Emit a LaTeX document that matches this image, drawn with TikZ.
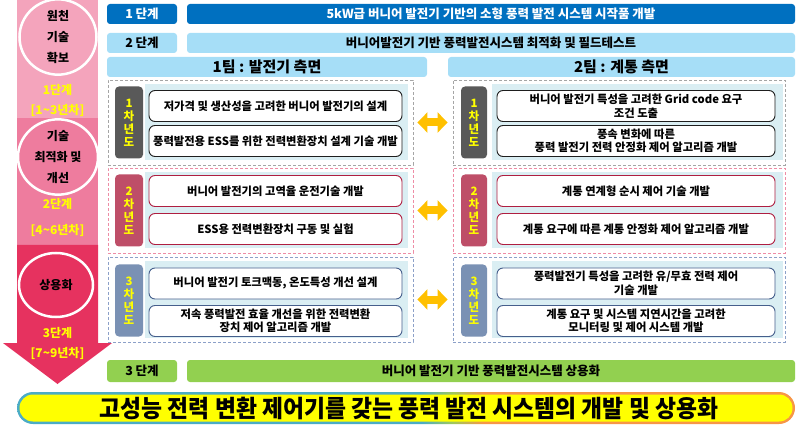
\documentclass[tikz,border=0pt]{standalone}
\usepackage{fontspec}
\setmainfont{Noto Sans CJK KR}
\usetikzlibrary{arrows.meta,shapes.geometric}

\definecolor{sOne}{RGB}{244,164,188}
\definecolor{sTwo}{RGB}{238,124,158}
\definecolor{sThree}{RGB}{230,50,95}
\definecolor{dblue}{RGB}{0,112,192}
\definecolor{lblue}{RGB}{166,222,247}
\definecolor{panelc}{RGB}{218,238,243}
\definecolor{gOne}{RGB}{89,89,89}
\definecolor{gTwo}{RGB}{190,78,104}
\definecolor{gThree}{RGB}{122,145,180}
\definecolor{dOne}{RGB}{165,165,165}
\definecolor{dTwo}{RGB}{238,140,165}
\definecolor{dThree}{RGB}{140,160,200}
\definecolor{bOne}{RGB}{30,30,30}
\definecolor{bTwo}{RGB}{175,30,65}
\definecolor{bThree}{RGB}{70,95,140}
\definecolor{arrc}{RGB}{255,192,0}
\definecolor{grn}{RGB}{146,208,80}
\definecolor{tblue}{RGB}{75,172,198}
\definecolor{tgreen}{RGB}{160,200,90}
\definecolor{torange}{RGB}{247,150,70}
\definecolor{ylw}{RGB}{255,255,0}

\pgfdeclarehorizontalshading{barshade}{100bp}{color(0bp)=(tblue); color(25bp)=(tblue); color(51bp)=(tblue); color(53bp)=(tgreen); color(55bp)=(torange); color(75bp)=(torange); color(100bp)=(torange)}

\begin{document}
\begin{tikzpicture}[x=1pt,y=-1pt,font=\bfseries,
  rowbox/.style={rounded corners=3pt, inner sep=0pt, minimum height=20pt, font=\bfseries\fontsize{12.5}{14}\selectfont},
  teambox/.style={rounded corners=3pt, inner sep=0pt, minimum height=20pt, fill=lblue, font=\bfseries\fontsize{15}{17}\selectfont},
  dbox/.style={draw=#1, dash pattern=on 3pt off 2pt, line width=0.9pt, fill=white, inner sep=0pt, minimum height=85pt},
  panelbox/.style={fill=panelc, inner sep=0pt, minimum height=76pt},
  yearlab/.style={fill=#1, rounded corners=4pt, inner sep=0pt, minimum height=72pt, text=ylw, align=center, font=\bfseries\fontsize{11.5}{13}\selectfont},
  wbox/.style={draw=#1, line width=0.9pt, fill=white, rounded corners=6pt, inner sep=0pt, minimum height=31pt, align=center, font=\bfseries\fontsize{11.3}{13.5}\selectfont},
  stagetxt/.style={text=ylw, font=\bfseries\fontsize{12}{14}\selectfont},
  circ/.style={ellipse, draw=white, line width=2.5pt, inner sep=0pt, align=center, font=\bfseries\fontsize{12}{21}\selectfont},
  dblarrow/.style={draw=arrc, line width=8pt, {Triangle[width=20pt,length=10pt]}-{Triangle[width=20pt,length=10pt]}, shorten <=4pt, shorten >=5pt}
]
\useasboundingbox (0,0) rectangle (800,430);

% left column arrow
\fill[sOne] (17,0) rectangle (98,118);
\fill[sTwo] (17,118) rectangle (98,245);
\fill[sThree] (17,245) -- (98,245) -- (98,343) -- (112,343) -- (57.5,384) -- (3,343) -- (17,343) -- cycle;

\node[circ, minimum width=77pt, minimum height=64pt] (c1) at (58,37) {원천\\기술\\확보};
\node[stagetxt] (st1a) at (57.5,90) {1단계};
\node[stagetxt] (st1b) at (57.5,110) {[1\textasciitilde3년차]};

\node[circ, minimum width=80pt, minimum height=68pt] (c2) at (58,157) {기술\\최적화 및\\개선};
\node[stagetxt] (st2a) at (57.5,204) {2단계};
\node[stagetxt] (st2b) at (57.5,230) {[4\textasciitilde6년차]};

\node[circ, minimum width=74pt, minimum height=64pt] (c3) at (56,285) {상용화};
\node[stagetxt] (st3a) at (57.5,333) {3단계};
\node[stagetxt] (st3b) at (57.5,353) {[7\textasciitilde9년차]};

% top rows
\node[rowbox, fill=dblue, text=white, minimum width=70pt] (r1) at (142,14) {1 단계};
\node[rowbox, fill=dblue, text=white, minimum width=608pt] (r1t) at (491,14) {5kW급 버니어 발전기 기반의 소형 풍력 발전 시스템 시작품 개발};
\node[rowbox, fill=lblue, minimum width=70pt] (r2) at (142,43) {2 단계};
\node[rowbox, fill=lblue, minimum width=608pt] (r2t) at (491,43) {버니어발전기 기반 풍력발전시스템 최적화 및 필드테스트};

\node[teambox, minimum width=320pt] (t1) at (267,67) {1팀 : 발전기 측면};
\node[teambox, minimum width=347pt] (t2) at (621.5,67) {2팀 : 계통 측면};

% year 1
\node[dbox=dOne, minimum width=305pt] (y1L) at (260.5,122.5) {};
\node[panelbox, minimum width=263pt] (p1L) at (276.5,122.5) {};
\node[yearlab=gOne, minimum width=28pt] (l1L) at (129,122.5) {1\\차\\년\\도};
\node[wbox=bOne, minimum width=253pt] (w1La) at (275.5,106) {저가격 및 생산성을 고려한 버니어 발전기의 설계};
\node[wbox=bOne, minimum width=253pt] (w1Lb) at (275.5,141) {풍력발전용 ESS를 위한 전력변환장치 설계 기술 개발};

\node[dbox=dOne, minimum width=332pt] (y1R) at (619,122.5) {};
\node[panelbox, minimum width=291pt] (p1R) at (637.5,122.5) {};
\node[yearlab=gOne, minimum width=26pt] (l1R) at (474,122.5) {1\\차\\년\\도};
\node[wbox=bOne, minimum width=278pt] (w1Ra) at (636,106) {버니어 발전기 특성을 고려한 Grid code 요구\\조건 도출};
\node[wbox=bOne, minimum width=278pt] (w1Rb) at (636,141) {풍속 변화에 따른\\풍력 발전기 전력 안정화 제어 알고리즘 개발};

% year 2
\node[dbox=dTwo, minimum width=305pt] (y2L) at (260.5,210.5) {};
\node[panelbox, minimum width=263pt] (p2L) at (276.5,210.5) {};
\node[yearlab=gTwo, minimum width=28pt] (l2L) at (129,210.5) {2\\차\\년\\도};
\node[wbox=bTwo, minimum width=253pt] (w2La) at (275.5,191) {버니어 발전기의 고역율 운전기술 개발};
\node[wbox=bTwo, minimum width=253pt] (w2Lb) at (275.5,229) {ESS용 전력변환장치 구동 및 실험};

\node[dbox=dTwo, minimum width=332pt] (y2R) at (619,210.5) {};
\node[panelbox, minimum width=291pt] (p2R) at (637.5,210.5) {};
\node[yearlab=gTwo, minimum width=26pt] (l2R) at (474,210.5) {2\\차\\년\\도};
\node[wbox=bTwo, minimum width=278pt] (w2Ra) at (636,191) {계통 연계형 순시 제어 기술 개발};
\node[wbox=bTwo, minimum width=278pt] (w2Rb) at (636,229) {계통 요구에 따른 계통 안정화 제어 알고리즘 개발};

% year 3
\node[dbox=dThree, minimum width=305pt] (y3L) at (260.5,299.5) {};
\node[panelbox, minimum width=263pt] (p3L) at (276.5,299.5) {};
\node[yearlab=gThree, minimum width=28pt] (l3L) at (129,300.5) {3\\차\\년\\도};
\node[wbox=bThree, minimum width=253pt] (w3La) at (275.5,283.5) {버니어 발전기 토크맥동, 온도특성 개선 설계};
\node[wbox=bThree, minimum width=253pt] (w3Lb) at (275.5,321) {저속 풍력발전 효율 개선을 위한 전력변환\\장치 제어 알고리즘 개발};

\node[dbox=dThree, minimum width=332pt] (y3R) at (619,299.5) {};
\node[panelbox, minimum width=291pt] (p3R) at (637.5,299.5) {};
\node[yearlab=gThree, minimum width=26pt] (l3R) at (474,300.5) {3\\차\\년\\도};
\node[wbox=bThree, minimum width=278pt] (w3Ra) at (636,283.5) {풍력발전기 특성을 고려한 유/무효 전력 제어\\기술 개발};
\node[wbox=bThree, minimum width=278pt] (w3Rb) at (636,321) {계통 요구 및 시스템 지연시간을 고려한\\모니터링 및 제어 시스템 개발};

% arrows
\draw[dblarrow] (y1L.east) -- (y1R.west);
\draw[dblarrow] (y2L.east) -- (y2R.west);
\draw[dblarrow] (y3L.east) -- (y3R.west);

% stage 3 row
\node[rowbox, fill=grn, minimum width=70pt, minimum height=22pt] (r3) at (142,371) {3 단계};
\node[rowbox, fill=grn, minimum width=608pt, minimum height=22pt] (r3t) at (491,371) {버니어 발전기 기반 풍력발전시스템 상용화};

% title bar
\shade[shading=barshade, rounded corners=16pt] (17,392) rectangle (795,424);
\fill[ylw, rounded corners=13.5pt] (19.5,394.5) rectangle (792.5,421.5);
\node[font=\bfseries\fontsize{24}{24}\selectfont, xscale=0.95, inner sep=0pt] (title) at (409,408) {고성능 전력 변환 제어기를 갖는 풍력 발전 시스템의 개발 및 상용화};
\end{tikzpicture}
\end{document}
